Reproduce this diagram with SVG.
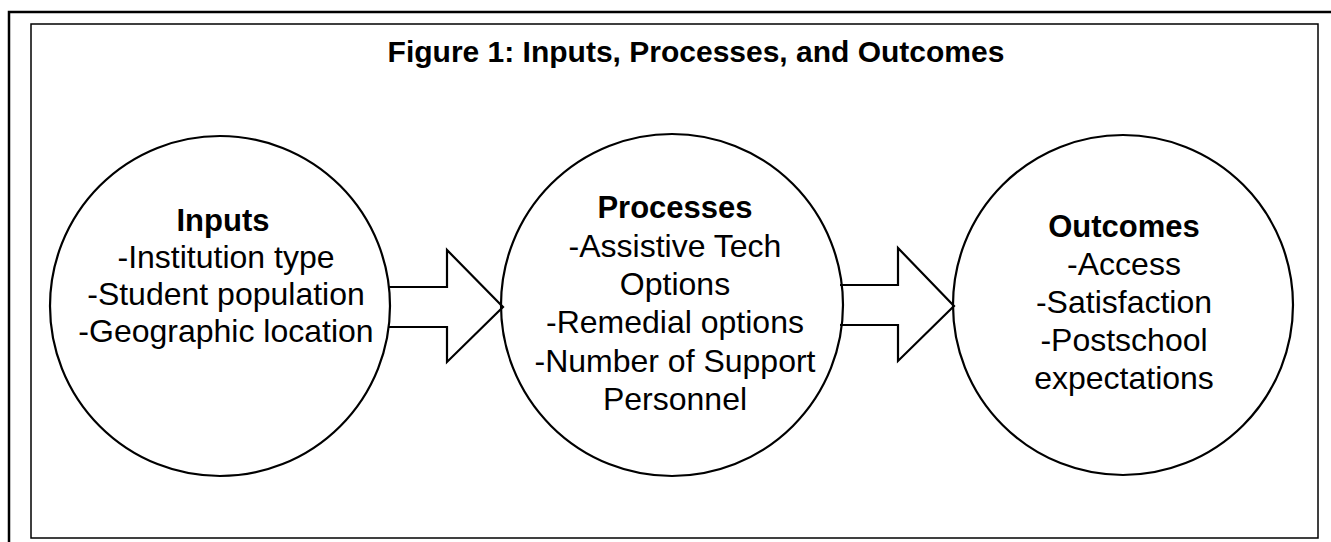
<svg xmlns="http://www.w3.org/2000/svg" width="1331" height="542" viewBox="0 0 1331 542">
<style>
.t{font-family:"Liberation Sans",Arial,sans-serif;fill:#000;text-anchor:middle}
.title{font-size:30px;font-weight:bold}
.h{font-size:31px;font-weight:bold}
.b{font-size:32px}
.c{fill:none;stroke:#000;stroke-width:2.2}
.a{fill:#fff;stroke:#000;stroke-width:2.2;stroke-linejoin:miter}
</style>
<rect width="1331" height="542" fill="#fff"/>
<g id="frame" fill="none" stroke="#000">
<path d="M9,542 V12 H1331" stroke-width="2.5"/>
<rect x="31" y="24" width="1287" height="514" stroke-width="1.5"/>
</g>
<text class="t title" x="696" y="62">Figure 1: Inputs, Processes, and Outcomes</text>
<g id="connectors">
<path class="a" d="M388,287 H447 V250 L503,307 L447,362 V327 H388"/>
<path class="a" d="M840,285 H898 V248 L954,306 L898,361 V325 H840"/>
</g>
<g id="inputs">
<circle class="c" cx="220" cy="306" r="170"/>
<text class="t h" x="223" y="231">Inputs</text>
<text class="t b" x="226" y="268">-Institution type</text>
<text class="t b" x="226" y="305">-Student population</text>
<text class="t b" x="226" y="342">-Geographic location</text>
</g>
<g id="processes">
<circle class="c" cx="672" cy="305" r="171"/>
<text class="t h" x="675" y="218">Processes</text>
<text class="t b" x="675" y="257">-Assistive Tech</text>
<text class="t b" x="675" y="295">Options</text>
<text class="t b" x="675" y="333">-Remedial options</text>
<text class="t b" x="675" y="372">-Number of Support</text>
<text class="t b" x="675" y="410">Personnel</text>
</g>
<g id="outcomes">
<circle class="c" cx="1123" cy="305" r="170"/>
<text class="t h" x="1124" y="237">Outcomes</text>
<text class="t b" x="1124" y="275">-Access</text>
<text class="t b" x="1124" y="313">-Satisfaction</text>
<text class="t b" x="1124" y="351">-Postschool</text>
<text class="t b" x="1124" y="389">expectations</text>
</g>
</svg>
